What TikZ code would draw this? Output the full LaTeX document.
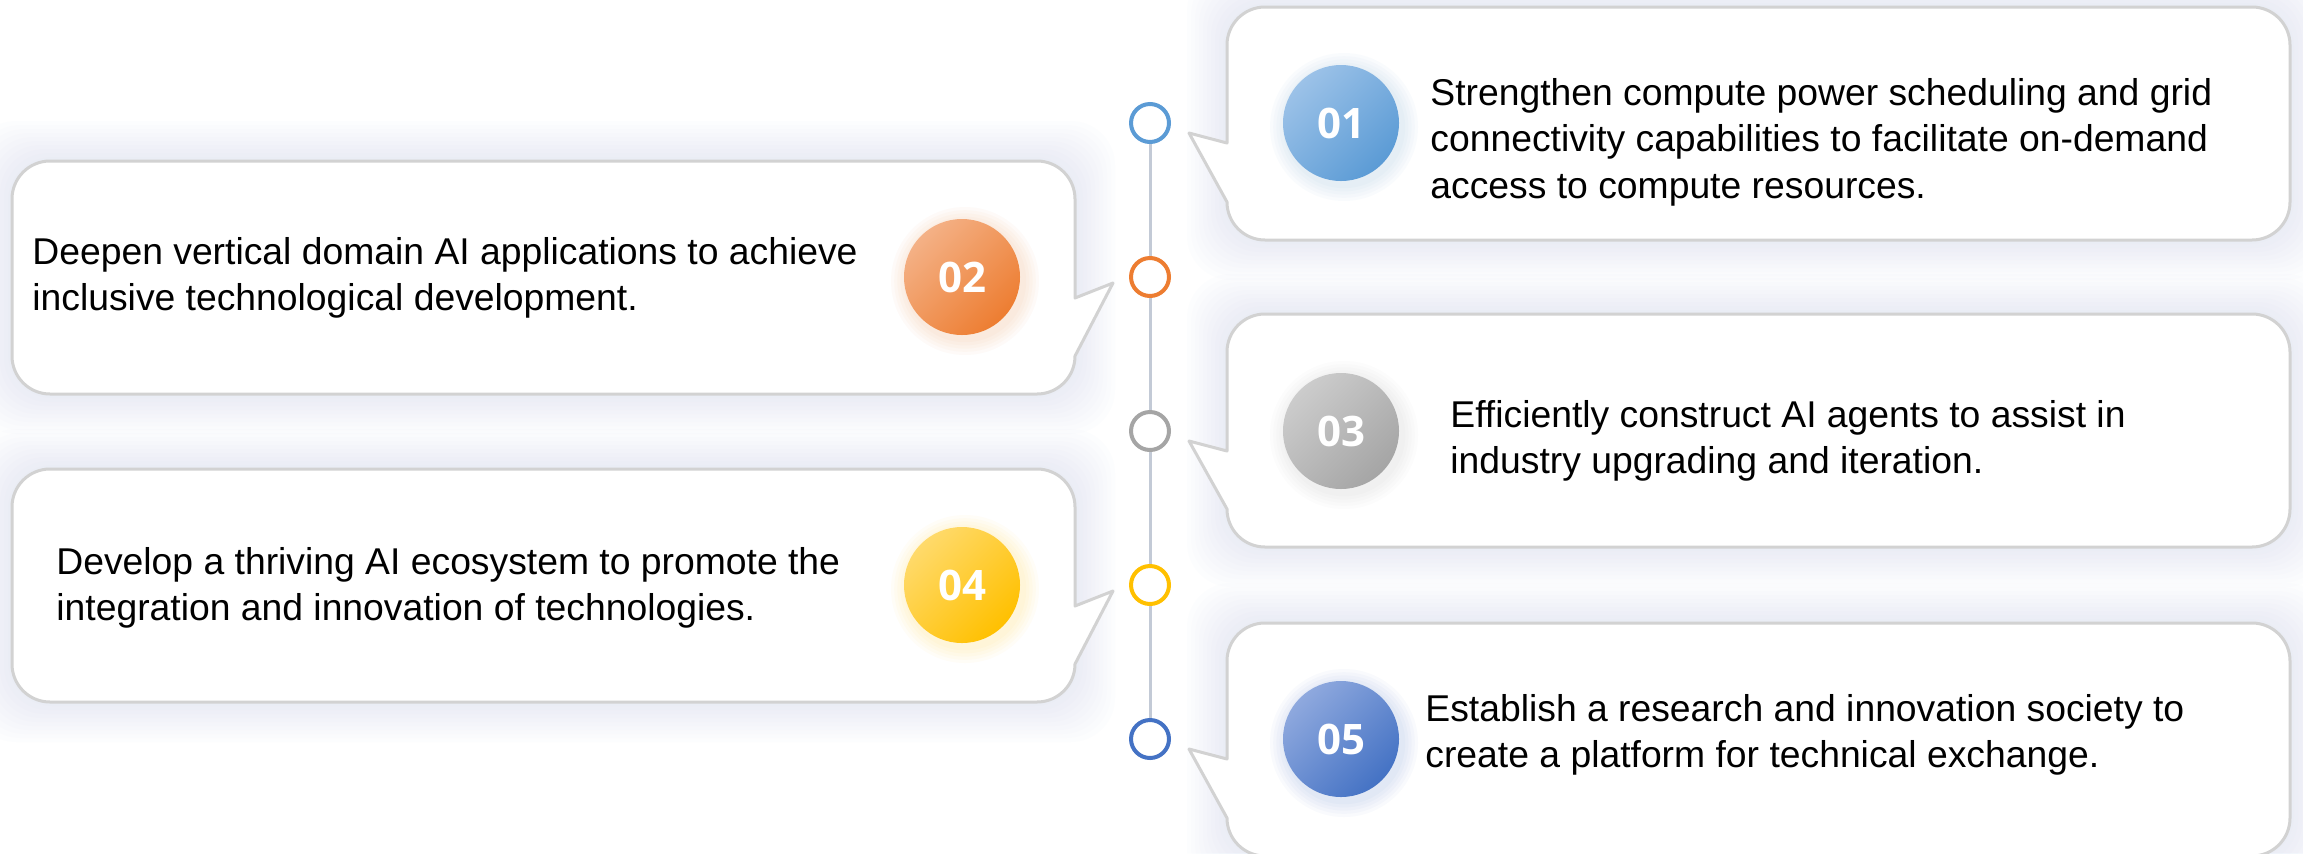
\documentclass[tikz,border=0pt]{standalone}
\usepackage{fontspec}
\setmainfont{Liberation Sans}
\newfontfamily\numfont{Open Sans}
\definecolor{cA}{HTML}{5B9BD5}\definecolor{cAl}{HTML}{9CC2E8}
\definecolor{cB}{HTML}{ED7D31}\definecolor{cBl}{HTML}{F4B186}
\definecolor{cC}{HTML}{A5A5A5}\definecolor{cCl}{HTML}{CCCCCC}
\definecolor{cD}{HTML}{FFC000}\definecolor{cDl}{HTML}{FFDA6B}
\definecolor{cE}{HTML}{4472C4}\definecolor{cEl}{HTML}{8FA9DE}
\definecolor{edgec}{HTML}{D2D2D2}
\definecolor{linec}{HTML}{C3CAD6}
\definecolor{glowc}{HTML}{BFD0EC}
\tikzset{
  boxline/.style={draw=edgec, line width=1.5pt, fill=white, line join=round},
  dot/.style={circle, draw=#1, line width=2pt, fill=white, minimum size=19pt, inner sep=0pt},
  badge/.style n args={2}{circle, minimum size=58pt, inner sep=0pt, left color=#2, right color=#1, shading angle=45, text=white, font=\numfont\bfseries\fontsize{21}{21}\selectfont},
  txt/.style={align=left, inner sep=0pt, anchor=north west, text=black, font=\fontsize{18.65}{23.25}\selectfont},
  tline/.style={draw=linec, line width=1.5pt}
}
\newcommand{\glowbox}[4]{%
  \foreach \k in {1,...,10}{\fill[glowc, opacity=0.03, rounded corners=22pt] ({#1-4*\k},{#2-4*\k}) rectangle ({#3+4*\k},{#4+4*\k});}}
\newcommand{\badgeglow}[2]{%
  \foreach \k in {1,...,5}{\fill[#2, opacity=0.03] ({#1}) ++(3,4) circle[radius=29pt+1.6pt*\k];}}
\newcommand{\rcallout}[2]{%
  \draw[boxline] (1227,{#2+20}) -- (1227,{#1+38}) arc[start angle=180,end angle=90,radius=19pt]
    -- (2252,#1) arc[start angle=90,end angle=0,radius=19pt]
    -- (2290,{#1+233-38}) arc[start angle=0,end angle=-90,radius=19pt]
    -- (1265,{#1+233}) arc[start angle=270,end angle=180,radius=19pt]
    -- (1189,{#2+10}) -- cycle;}
\newcommand{\lcallout}[2]{%
  \draw[boxline] (50,#1) -- (1037,#1) arc[start angle=90,end angle=0,radius=19pt]
    -- (1075,{#2+21}) -- (1113,{#2+6}) -- (1075,{#1+233-38})
    arc[start angle=0,end angle=-90,radius=19pt]
    -- (50,{#1+233}) arc[start angle=270,end angle=180,radius=19pt]
    -- (12,{#1+38}) arc[start angle=180,end angle=90,radius=19pt] -- cycle;}
\begin{document}
\begin{tikzpicture}[x=0.5pt,y=-0.5pt]
\useasboundingbox[fill=white] (0,0) rectangle (2303,853);
% soft glow behind the boxes
\glowbox{1227}{7}{2290}{240}
\glowbox{12}{161}{1075}{394}
\glowbox{1227}{314}{2290}{547}
\glowbox{12}{469}{1075}{702}
\glowbox{1227}{623}{2290}{856}
% callout boxes
\rcallout{7}{123}
\lcallout{161}{277}
\rcallout{314}{431}
\lcallout{469}{585}
\rcallout{623}{739}
% timeline dots
\node[dot=cA] (t1) at (1150,123) {};
\node[dot=cB] (t2) at (1150,277) {};
\node[dot=cC] (t3) at (1150,431) {};
\node[dot=cD] (t4) at (1150,585) {};
\node[dot=cE] (t5) at (1150,739) {};
\draw[tline] (t1) -- (t2);
\draw[tline] (t2) -- (t3);
\draw[tline] (t3) -- (t4);
\draw[tline] (t4) -- (t5);
% badges
\badgeglow{1341,123}{cA}
\badgeglow{962,277}{cB}
\badgeglow{1341,431}{cC}
\badgeglow{962,585}{cD}
\badgeglow{1341,739}{cE}
\node[badge={cA}{cAl}] (b1) at (1341,123) {01};
\node[badge={cB}{cBl}] (b2) at (962,277) {02};
\node[badge={cC}{cCl}] (b3) at (1341,431) {03};
\node[badge={cD}{cDl}] (b4) at (962,585) {04};
\node[badge={cE}{cEl}] (b5) at (1341,739) {05};
% texts
\node[txt] (x1) at (1430,78) {Strengthen compute power scheduling and grid\\connectivity capabilities to facilitate on-demand\\access to compute resources.};
\node[txt] (x2) at (32,237) {Deepen vertical domain AI applications to achieve\\inclusive technological development.};
\node[txt] (x3) at (1450,400) {Efficiently construct AI agents to assist in\\industry upgrading and iteration.};
\node[txt] (x4) at (56,547) {Develop a thriving AI ecosystem to promote the\\integration and innovation of technologies.};
\node[txt] (x5) at (1425,694) {Establish a research and innovation society to\\create a platform for technical exchange.};
\end{tikzpicture}
\end{document}
